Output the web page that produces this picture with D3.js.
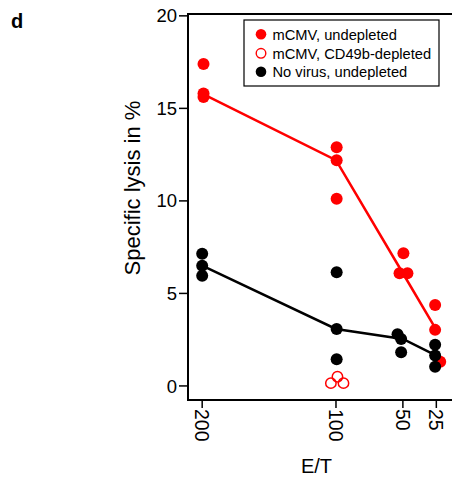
<!DOCTYPE html>
<html><head><meta charset="utf-8">
<script src="https://cdn.jsdelivr.net/npm/d3@7"></script>
<style>body{margin:0;background:#fff}svg{display:block}text{font-family:"Liberation Sans",Arial,Helvetica,sans-serif}</style>
</head><body>
<script>
// Data
const etLevels = [200, 100, 50, 25];
const xTickLabels = ["200", "100", "50", "25"];
const yTicks = [0, 5, 10, 15, 20];
// mCMV, undepleted: effector/target ratio (with jitter as plotted) and lysis %
const mcmvET   = [199, 199, 199, 99.5, 99.5, 99.5, 49.6, 52.5, 46.6, 25.9, 25.9, 22.1];
const mcmvGrp  = [200, 200, 200, 100, 100, 100, 50, 50, 50, 25, 25, 25];
const mcmvLys  = [17.4, 15.8, 15.62, 12.9, 12.2, 10.12, 7.17, 6.09, 6.09, 4.38, 3.03, 1.31];
// mCMV, CD49b-depleted
const deplET   = [103.8, 98.9, 94.4];
const deplLys  = [0.15, 0.5, 0.15];
// No virus, undepleted
const novET    = [200, 200, 200, 99.5, 99.5, 99.5, 54, 51.3, 51.3, 25.9, 25.9, 25.9];
const novGrp   = [200, 200, 200, 100, 100, 100, 50, 50, 50, 25, 25, 25];
const novLys   = [7.14, 6.5, 5.95, 6.15, 3.08, 1.44, 2.79, 2.54, 1.82, 2.22, 1.64, 1.04];
const legendLabels = ["mCMV, undepleted", "mCMV, CD49b-depleted", "No virus, undepleted"];

const W = 452, H = 477;
const RED = "#ff0000";
const svg = d3.select("body").append("svg").attr("width", W).attr("height", H);

const x = d3.scaleLinear().domain([210.6, 10.3]).range([188, 456]);
const y = d3.scaleLinear().domain([-0.76, 20.1]).range([400, 14]);

// frame
svg.append("path").attr("d", `M${W+5},${y.range()[1]}H${x.range()[0]}V${y.range()[0]}H${W+5}`)
  .attr("fill", "none").attr("stroke", "#000").attr("stroke-width", 2);

// y axis ticks
const ya = svg.append("g");
yTicks.forEach(t => {
  ya.append("line").attr("x1", 179).attr("x2", 188).attr("y1", y(t)).attr("y2", y(t))
    .attr("stroke", "#000").attr("stroke-width", 1.5);
  ya.append("text").attr("x", 177).attr("y", y(t) + 6.6).attr("text-anchor", "end")
    .attr("font-size", 18.5).text(t);
});
// x axis ticks
etLevels.forEach((t, i) => {
  svg.append("line").attr("x1", x(t)).attr("x2", x(t)).attr("y1", 400).attr("y2", 408)
    .attr("stroke", "#000").attr("stroke-width", 1.5);
  svg.append("text").attr("transform", `translate(${x(t)},409) rotate(90)`)
    .attr("dy", "0.36em").attr("text-anchor", "start").attr("font-size", 19.5).text(xTickLabels[i]);
});

// axis titles
svg.append("text").attr("transform", "translate(139.5,188) rotate(-90)").attr("text-anchor", "middle")
  .attr("font-size", 22).text("Specific lysis in %");
svg.append("text").attr("x", 316.5).attr("y", 473).attr("text-anchor", "middle")
  .attr("font-size", 20).text("E/T");
svg.append("text").attr("x", 11).attr("y", 28).attr("font-size", 20).attr("font-weight", "bold").text("d");

// medians
function medians(grp, vals) {
  return etLevels.map(e => [e, d3.median(vals.filter((v, i) => grp[i] === e))]);
}
const line = d3.line().x(d => x(d[0])).y(d => y(d[1]));
svg.append("path").attr("d", line(medians(mcmvGrp, mcmvLys))).attr("fill", "none")
  .attr("stroke", RED).attr("stroke-width", 2.5);

// points
const R = 6;
svg.append("g").selectAll("circle").data(mcmvLys).join("circle")
  .attr("cx", (d, i) => x(mcmvET[i])).attr("cy", d => y(d)).attr("r", R).attr("fill", RED);
svg.append("g").selectAll("circle").data(deplLys).join("circle")
  .attr("cx", (d, i) => x(deplET[i])).attr("cy", d => y(d)).attr("r", 5.2)
  .attr("fill", "#fff").attr("fill-opacity", 0).attr("stroke", RED).attr("stroke-width", 1.5);
svg.append("path").attr("d", line(medians(novGrp, novLys))).attr("fill", "none")
  .attr("stroke", "#000").attr("stroke-width", 2.5);
svg.append("g").selectAll("circle").data(novLys).join("circle")
  .attr("cx", (d, i) => x(novET[i])).attr("cy", d => y(d)).attr("r", R).attr("fill", "#000");

// legend
const lg = svg.append("g");
lg.append("rect").attr("x", 244).attr("y", 20).attr("width", 195).attr("height", 66)
  .attr("fill", "#fff").attr("stroke", "#000").attr("stroke-width", 1.2);
const rows = [34.3, 53.3, 71.7];
legendLabels.forEach((lab, i) => {
  const c = lg.append("circle").attr("cx", 261).attr("cy", rows[i]).attr("r", 5.3);
  if (i === 0) c.attr("fill", RED);
  else if (i === 1) c.attr("fill", "none").attr("stroke", RED).attr("stroke-width", 1.4).attr("r", 4.8);
  else c.attr("fill", "#000");
  lg.append("text").attr("x", 272.5).attr("y", rows[i] + 5.3).attr("font-size", 14.7).text(lab);
});
</script>
</body></html>
